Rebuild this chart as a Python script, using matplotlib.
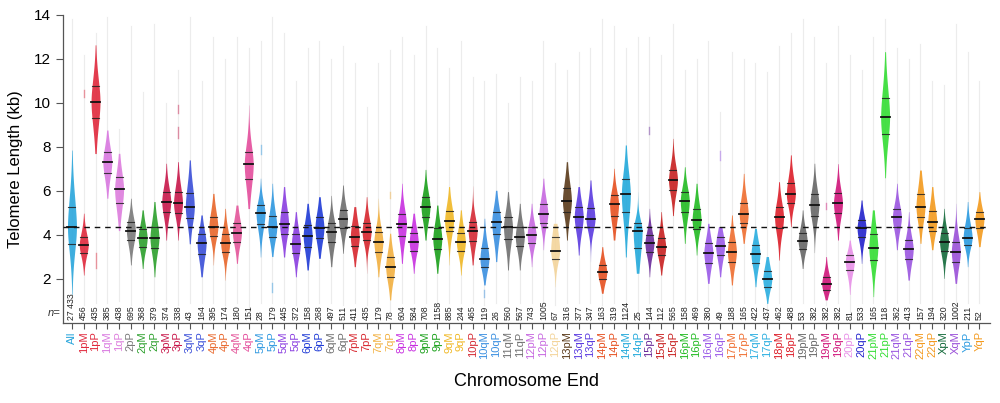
import matplotlib
matplotlib.use('Agg')
import matplotlib.pyplot as plt
import numpy as np

plt.rcParams['font.family'] = ['Liberation Sans', 'DejaVu Sans']

categories = ['All', '1pM', '1pP', '1qM', '1qP', '2pP', '2qM', '2qP', '3pM', '3pP', '3qM', '3qP',
              '4pM', '4pP', '4qM', '4qP', '5pM', '5pP', '5qM', '5qP', '6pM', '6pP', '6qM', '6qP',
              '7pM', '7pP', '7qM', '7qP', '8pM', '8pP', '9pM', '9pP', '9qM', '9qP', '10pP', '10qM',
              '10qP', '11qM', '11qP', '12pM', '12pP', '12qP', '13pM', '13qM', '13qP', '14pM', '14pP',
              '14qM', '14qP', '15pP', '15qM', '15qP', '16pM', '16pP', '16qM', '16qP', '17pM', '17pP',
              '17qM', '17qP', '18pM', '18pP', '19pM', '19pP', '19qM', '19qP', '20pP', '20qP', '21pM',
              '21pP', '21qM', '21qP', '22qM', '22qP', 'XpM', 'XqM', 'YpP', 'YqP']

n_counts = ['27 433', '456', '435', '385', '438', '695', '368', '379', '374', '338', '43', '164',
            '395', '174', '180', '151', '28', '179', '445', '372', '158', '268', '497', '511',
            '411', '435', '179', '78', '604', '584', '708', '1158', '885', '244', '465', '119',
            '26', '560', '567', '743', '1005', '67', '316', '377', '347', '163', '319', '1124',
            '25', '144', '112', '565', '158', '469', '380', '49', '188', '165', '422', '437',
            '462', '488', '53', '382', '382', '382', '81', '533', '165', '118', '362', '413',
            '157', '194', '320', '1002', '211', '52']

medians = [4.35, 3.55, 10.06, 7.33, 6.08, 4.20, 3.85, 3.87, 5.52, 5.44, 5.26, 3.62,
           4.35, 3.62, 4.11, 7.21, 4.98, 4.35, 4.50, 3.59, 3.97, 4.32, 4.15, 4.71,
           3.92, 4.14, 3.70, 2.56, 4.48, 3.67, 5.29, 3.82, 4.64, 3.67, 4.20, 2.91,
           4.59, 4.35, 3.92, 3.99, 4.95, 3.29, 5.56, 4.83, 4.71, 2.30, 5.41, 5.85,
           4.20, 3.62, 3.44, 6.50, 5.55, 4.68, 3.20, 3.52, 3.24, 4.94, 3.14, 1.98,
           4.80, 5.85, 3.73, 5.36, 1.77, 5.44, 2.79, 4.30, 3.42, 9.35, 4.80, 3.35,
           5.29, 4.58, 3.70, 3.24, 3.88, 4.71]

q1 = [3.59, 3.20, 9.30, 6.83, 5.47, 3.77, 3.47, 3.39, 5.06, 5.02, 4.76, 3.12,
      3.97, 3.24, 3.70, 6.53, 4.50, 3.93, 4.04, 3.17, 3.47, 3.85, 3.67, 4.30,
      3.50, 3.77, 3.24, 2.10, 3.97, 3.29, 4.83, 3.35, 4.20, 3.29, 3.74, 2.53,
      4.04, 3.80, 3.50, 3.64, 4.56, 2.91, 5.06, 4.35, 4.35, 1.98, 4.86, 5.03,
      3.42, 3.24, 3.07, 6.05, 5.03, 4.27, 2.74, 3.09, 2.79, 4.53, 2.71, 1.65,
      4.30, 5.47, 3.38, 4.88, 1.50, 4.98, 2.41, 3.92, 2.85, 8.58, 4.38, 2.90,
      4.80, 4.18, 3.29, 2.76, 3.55, 4.30]

q3 = [5.26, 3.92, 10.77, 7.79, 6.62, 4.59, 4.26, 4.38, 5.97, 5.95, 5.92, 4.04,
      4.83, 4.04, 4.56, 7.79, 5.36, 4.86, 5.03, 4.04, 4.45, 4.80, 4.56, 5.14,
      4.41, 4.56, 4.12, 3.02, 4.95, 4.11, 5.74, 4.30, 5.11, 4.11, 4.60, 3.39,
      5.06, 4.83, 4.35, 4.38, 5.41, 3.89, 6.12, 5.29, 5.23, 2.64, 5.82, 6.53,
      4.53, 3.99, 3.86, 6.95, 5.97, 5.17, 3.62, 3.92, 3.70, 5.44, 3.55, 2.38,
      5.26, 6.35, 4.11, 5.86, 2.10, 5.89, 3.09, 4.68, 4.04, 10.21, 5.20, 3.77,
      5.86, 5.09, 4.08, 3.70, 4.30, 5.06]

v_low = [1.30, 2.18, 7.70, 5.67, 4.20, 2.64, 2.48, 2.10, 3.77, 3.77, 3.60, 2.10,
         2.64, 1.95, 2.71, 5.20, 3.00, 3.02, 3.00, 2.10, 2.41, 2.94, 2.56, 3.17,
         2.56, 2.26, 2.10, 1.05, 2.71, 2.26, 3.77, 2.26, 2.64, 2.18, 2.64, 1.73,
         2.79, 2.41, 2.41, 2.56, 3.33, 1.65, 3.77, 3.09, 2.79, 1.35, 3.77, 3.00,
         2.26, 2.10, 2.18, 4.88, 3.62, 3.09, 1.80, 2.10, 1.73, 3.62, 1.65, 0.89,
         2.86, 4.38, 2.48, 3.20, 1.05, 3.77, 1.30, 2.71, 1.20, 6.60, 3.33, 1.95,
         3.62, 3.33, 2.03, 1.80, 2.56, 3.47]

v_high = [7.86, 4.99, 12.64, 8.77, 7.71, 5.67, 5.14, 5.52, 7.26, 7.33, 7.41, 4.91,
          5.89, 5.21, 5.36, 9.91, 6.58, 6.35, 6.20, 5.06, 5.44, 5.74, 5.80, 6.27,
          5.29, 5.74, 5.67, 4.08, 6.35, 4.99, 6.98, 5.36, 6.20, 5.14, 6.23, 4.76,
          6.03, 5.97, 5.44, 5.44, 6.58, 4.53, 7.33, 6.20, 6.50, 3.47, 7.03, 8.09,
          5.97, 5.21, 5.06, 8.39, 7.10, 6.35, 4.53, 4.38, 4.91, 6.80, 4.30, 3.02,
          6.42, 7.64, 5.14, 7.26, 3.02, 7.24, 3.77, 5.59, 5.14, 12.33, 6.35, 5.06,
          6.95, 6.20, 5.21, 5.44, 5.52, 5.97]

line_top = [13.8, 12.2, 13.2, 13.9, 8.8, 13.5, 10.5, 13.6, 10.0, 11.5, 13.9, 11.0,
            13.0, 12.0, 13.0, 12.5, 12.8, 13.9, 13.2, 11.0, 12.5, 12.8, 12.0, 12.6,
            11.8, 9.8, 11.8, 12.4, 13.0, 12.2, 13.5, 12.5, 11.6, 12.8, 11.2, 11.0,
            11.3, 10.0, 11.2, 11.0, 12.8, 11.8, 11.5, 12.3, 12.5, 13.8, 13.5, 12.5,
            13.0, 13.0, 12.2, 13.6, 11.5, 12.0, 12.8, 9.6, 12.3, 12.0, 11.8, 11.4,
            12.6, 13.2, 13.8, 13.0, 11.8, 13.5, 12.2, 11.5, 13.0, 13.8, 12.5, 12.0,
            12.7, 11.0, 10.8, 13.6, 12.3, 11.0]

line_low = [0.9, 0.8, 0.9, 0.9, 1.0, 0.8, 0.9, 0.9, 0.9, 0.8, 0.9, 0.9,
            0.9, 0.8, 0.9, 0.5, 0.9, 0.9, 0.9, 0.8, 0.9, 0.9, 0.9, 0.8,
            0.9, 0.8, 0.9, 0.5, 0.9, 0.9, 0.9, 0.8, 0.9, 0.9, 0.9, 0.8,
            0.9, 0.9, 0.9, 0.9, 0.9, 0.8, 0.9, 0.9, 0.9, 0.8, 0.9, 0.3,
            0.3, 0.9, 0.9, 0.9, 0.9, 0.9, 0.8, 0.9, 0.9, 0.9, 0.9, 0.5,
            0.9, 0.9, 0.9, 0.9, 0.8, 0.9, 0.5, 0.9, 0.9, 0.3, 0.9, 0.9,
            0.9, 0.9, 0.9, 0.3, 0.9, 0.9]

colors = ['#2aa6dc', '#e0283c', '#e0283c', '#d978e0', '#dd7ddd', '#7a7a7a', '#2ca02c', '#2ca02c',
          '#c8174a', '#c8174a', '#3a4fd8', '#3a4fd8', '#e8662a', '#e8662a', '#e4559a', '#e44d9c',
          '#2f98e0', '#2f98e0', '#8a3ee0', '#8a3ee0', '#1f3bd6', '#1f3bd6', '#6e6e6e', '#6e6e6e',
          '#d7262e', '#d7262e', '#f2b040', '#f2b040', '#c830e0', '#c830e0', '#1aa01a', '#1aa01a',
          '#f0b826', '#f0b826', '#d52a35', '#3a8fe0', '#3a8fe0', '#707070', '#707070', '#c768e0',
          '#c768e0', '#f3d49a', '#5a3a1a', '#5b3be0', '#5b3be0', '#e65020', '#e65020', '#22a9db',
          '#22a9db', '#6a2a9a', '#c82020', '#c82020', '#22bb22', '#22bb22', '#9a5ae8', '#9a5ae8',
          '#ef6e30', '#ef6e30', '#2aaee0', '#2aaee0', '#dd1f2a', '#dd1f2a', '#666666', '#666666',
          '#d0157a', '#d0157a', '#e890e8', '#2222cc', '#33dd33', '#33dd33', '#9b55e0', '#9b55e0',
          '#f39a1e', '#f39a1e', '#136a3a', '#9a50d8', '#2a9ae0', '#f39a1e']

# outlier marks: (category index, low, high)
outliers = [(1, 10.25, 10.6), (2, 2.5, 3.2), (9, 9.55, 9.9), (9, 8.4, 8.9), (16, 7.7, 8.1),
            (17, 1.4, 1.8), (27, 5.7, 5.95), (35, 1.2, 1.5), (49, 8.6, 8.9), (55, 7.4, 7.8),
            (64, 5.2, 5.45), (4, 6.9, 7.1)]

overall_median = 4.35
y_ticks = [2, 4, 6, 8, 10, 12, 14]

fig = plt.figure(figsize=(10, 4.03), dpi=100)
ax = fig.add_axes([0.063, 0.1985, 0.927, 0.7645])

xs = np.arange(len(categories))
half_w = 0.38

for i in xs:
    ax.plot([i, i], [line_low[i], line_top[i]], color='#ececec', lw=0.8, zorder=1)

for (i, lo, hi) in outliers:
    ax.plot([i, i], [lo, hi], color=colors[i], lw=1.0, alpha=0.45, zorder=2)

for i in xs:
    med, a, b = medians[i], q1[i], q3[i]
    s_up = (b - med) / 0.674
    s_dn = (med - a) / 0.674
    ys = np.linspace(v_low[i], v_high[i], 300)
    z = np.where(ys >= med, (ys - med) / s_up, (ys - med) / s_dn)
    w = half_w * np.exp(-0.5 * np.abs(z) ** 1.8)
    ax.fill_betweenx(ys, i - w, i + w, color=colors[i], alpha=0.9, lw=0, zorder=3)
    ax.plot([i - half_w, i + half_w], [med, med], color='#111111', lw=1.3, zorder=5)
    qw = half_w * np.exp(-0.5 * 0.674 ** 1.8)
    for q in (a, b):
        ax.plot([i - qw, i + qw], [q, q], color='#222222', lw=0.8, alpha=0.85, zorder=5)

ax.axhline(overall_median, color='#111111', lw=1.0, ls=(0, (4, 3.5)), zorder=4)

for i in xs:
    ax.text(i, 0.15, n_counts[i], rotation=90, ha='center', va='bottom', fontsize=6.3,
            color='#222222', zorder=6)
ax.text(-0.95, 0.45, 'n=', ha='right', va='center', fontsize=8, style='italic', color='#333333')

ax.set_xlim(-0.76, 77.9)
ax.set_ylim(0, 14)
ax.set_yticks(y_ticks)
ax.set_yticklabels([str(t) for t in y_ticks], fontsize=11)
ax.set_xticks(xs)
ax.set_xticklabels(categories, rotation=90, fontsize=8)
for lbl, c in zip(ax.get_xticklabels(), colors):
    lbl.set_color(c)
ax.tick_params(axis='x', length=4, width=0.8, color='#555555', pad=2)
ax.tick_params(axis='y', length=5, width=0.8, color='#555555')

for s in ('top', 'right'):
    ax.spines[s].set_visible(False)
for s in ('left', 'bottom'):
    ax.spines[s].set_color('#555555')
    ax.spines[s].set_linewidth(0.9)

ax.set_ylabel('Telomere Length (kb)', fontsize=12, labelpad=8)
ax.set_xlabel('Chromosome End', fontsize=13, labelpad=10)

fig.savefig('out.png', dpi=100)
